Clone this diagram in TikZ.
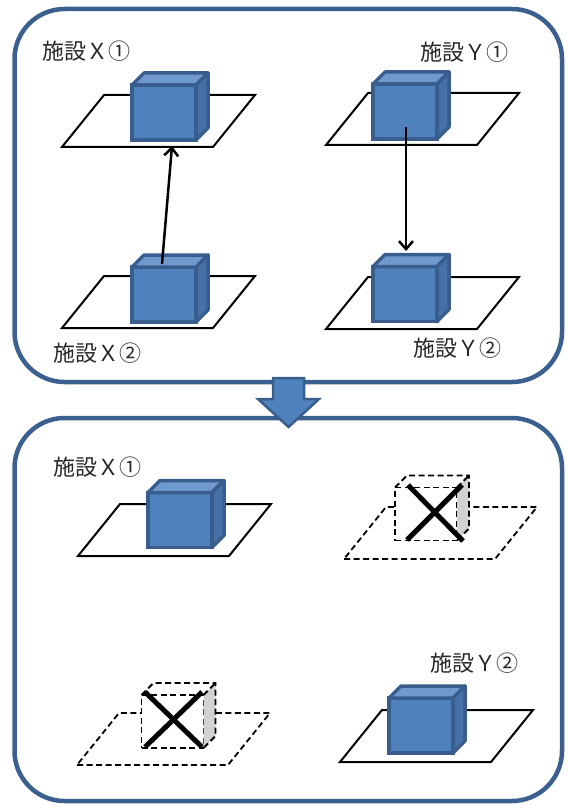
\documentclass[tikz,border=0pt]{standalone}
\usepackage{fontspec}
\newfontfamily\jpfont{Noto Sans CJK JP}
\usetikzlibrary{arrows.meta}

\definecolor{frameblue}{HTML}{3B5F8F}
\definecolor{cubeblue}{HTML}{4F81BD}
\definecolor{cubeedge}{HTML}{395D8C}
\definecolor{cubetop}{HTML}{7099CE}
\definecolor{cubeside}{HTML}{4671A8}
\definecolor{ghostgray}{HTML}{D2D2D2}
\definecolor{textgray}{HTML}{262626}

\tikzset{
  panel/.style={draw=frameblue, line width=4.5pt, rounded corners=50pt,
    inner sep=0pt, outer sep=0pt},
  planeline/.style={draw=black, line width=2pt, line join=miter},
  dashedge/.style={draw=black, line width=1.8pt, dash pattern=on 6pt off 3.5pt},
  ghostplane/.style={planeline, dashedge},
  cubefront/.style={draw=cubeedge, fill=cubeblue, line width=3.5pt,
    minimum width=64pt, minimum height=55pt, inner sep=0pt, outer sep=0pt},
  cubeface/.style={draw=cubeedge, line width=3.5pt, line join=round},
  ghostfront/.style={dashedge, fill=white,
    minimum width=62pt, minimum height=53pt, inner sep=0pt, outer sep=0pt},
  strike/.style={draw=black, line width=5pt},
  link/.style={draw=black, line width=2.5pt,
    -{Straight Barb[length=8pt,width=14pt]}},
  caption/.style={font=\jpfont\fontsize{22}{22}\selectfont, text=textgray,
    anchor=west, inner sep=0pt},
  bigarrow/.style={fill=cubeblue, draw=cubeedge, line width=2.5pt, line join=miter}
}

% floor plate: lower-left corner, width, slant, depth
\newcommand{\floorplate}[3][planeline]{%
  \draw[#1] (#2,#3) -- ++(151,0) -- ++(42,-52) -- ++(-151,0) -- cycle;}

% solid building block: name, centre of the front face
\newcommand{\bluecube}[3]{%
  \node[cubefront] (#1) at (#2,#3) {};
  \draw[cubeface, fill=cubetop] (#1.north west) -- ++(12,-12) -- ++(64,0)
    -- (#1.north east) -- cycle;
  \draw[cubeface, fill=cubeside] (#1.north east) -- ++(12,-12) -- ++(0,55)
    -- (#1.south east) -- cycle;}

% removed building: name, centre of the front face
\newcommand{\ghostcube}[3]{%
  \node[ghostfront] (#1) at (#2,#3) {};
  \fill[ghostgray] (#1.north east) -- ++(12,-12) -- ++(0,53)
    -- (#1.south east) -- cycle;
  \draw[dashedge] (#1.north west) -- ++(12,-12) -- ++(62,0) -- ++(0,53)
    -- (#1.south east);
  \draw[dashedge] (#1.north east) -- ++(12,-12);}

\begin{document}
\begin{tikzpicture}[x=1pt,y=-1pt]
\useasboundingbox (0,0) rectangle (567,805);

% the two panels
\node[panel, minimum width=547.5pt, minimum height=373pt] (before) at (288.25,195.5) {};
\node[panel, minimum width=547.5pt, minimum height=383pt] (after) at (288.25,609.5) {};

% ---------- upper panel ----------
\floorplate{62}{147}
\floorplate{326}{145}
\floorplate{62}{328}
\floorplate{326}{329}

\bluecube{xa}{164}{112.5}
\bluecube{ya}{405}{111.5}
\bluecube{xb}{164}{294.5}
\bluecube{yb}{405}{294}

\coordinate (xtail) at (162,264);
\coordinate (xtip) at (172,146);
\coordinate (ytail) at (406,127);
\coordinate (ytip) at (406,251);
\draw[link] (xtail) -- (xtip);
\draw[link] (ytail) -- (ytip);

\node[caption] (lxa) at (42,51) {施設Ｘ①};
\node[caption] (lya) at (420,52) {施設Ｙ①};
\node[caption] (lxb) at (53,353) {施設Ｘ②};
\node[caption] (lyb) at (413,348) {施設Ｙ②};

% ---------- lower panel ----------
\floorplate{78}{556}
\floorplate[ghostplane]{344}{559}
\floorplate[ghostplane]{77}{765}
\floorplate{340}{762}

\bluecube{xa2}{180}{520}
\bluecube{yb2}{421}{725.5}

\ghostcube{ya2}{426}{514}
\ghostcube{xb2}{172.5}{721.5}

\draw[strike] ([shift={(-18,-29)}]ya2.center) -- ([shift={(37,27)}]ya2.center);
\draw[strike] ([shift={(-19,26)}]ya2.center) -- ([shift={(36,-29)}]ya2.center);
\draw[strike] ([shift={(-27.5,-29.5)}]xb2.center) -- ([shift={(29.5,25.5)}]xb2.center);
\draw[strike] ([shift={(-27.5,25.5)}]xb2.center) -- ([shift={(29.5,-29.5)}]xb2.center);

\node[caption] (lxa2) at (53,467) {施設Ｘ①};
\node[caption] (lyb2) at (430,663) {施設Ｙ②};

% transition arrow between the panels
\draw[bigarrow] (273,378) -- (304,378) -- (304,399) -- (319,399) -- (288.5,427)
  -- (258,399) -- (273,399) -- cycle;
\end{tikzpicture}
\end{document}
